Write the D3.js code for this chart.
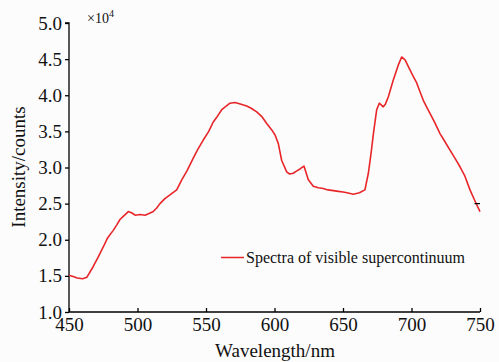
<!DOCTYPE html>
<html><head><meta charset="utf-8">
<script src="https://cdn.jsdelivr.net/npm/d3@7"></script>
<style>body{margin:0;background:#fcfcfc}svg{display:block}</style>
</head><body>
<svg id="c" width="499" height="362"></svg>
<script>
const wavelength = [450,453,456,460,463,467.7,471,475,478,482.3,485,487.2,490,493.3,496,498.2,502,505.5,508,511.5,514,516.4,520,523.7,528.6,532.3,536,540.7,544,548,552,555.3,558,561.5,564,567.5,571.2,575,579.7,583,587,591,594.3,598,600.4,602.8,605.2,608.9,611,613.7,616,618.6,621.5,624.7,628.3,632,635.6,639,642.9,646.6,650,653,657.5,662,666,668.5,670.5,672.2,674.6,676.5,679.4,681,683.1,686.7,690.4,692.8,695.3,698.9,701,703.8,706,708.6,711,713.5,717,720.8,724,728.1,732,735.4,739,742.7,746,750];
const intensity = [1.51,1.49,1.47,1.46,1.48,1.63,1.75,1.90,2.02,2.13,2.21,2.28,2.33,2.39,2.37,2.34,2.35,2.34,2.36,2.39,2.44,2.50,2.57,2.62,2.69,2.83,2.95,3.13,3.25,3.38,3.50,3.63,3.70,3.80,3.84,3.89,3.90,3.88,3.85,3.82,3.77,3.70,3.61,3.52,3.45,3.33,3.10,2.94,2.91,2.92,2.95,2.98,3.02,2.83,2.74,2.72,2.71,2.69,2.68,2.67,2.66,2.65,2.63,2.65,2.69,2.92,3.20,3.47,3.80,3.89,3.84,3.88,3.98,4.21,4.42,4.53,4.49,4.35,4.27,4.17,4.06,3.93,3.84,3.75,3.62,3.47,3.37,3.24,3.12,3.01,2.88,2.69,2.55,2.39];
const xTicks = [450,500,550,600,650,700,750];
const yTicks = [1.0,1.5,2.0,2.5,3.0,3.5,4.0,4.5,5.0];
const seriesName = "Spectra of visible supercontinuum";
const markerX = [746,750], markerY = [2.5,2.5];

const svg = d3.select("#c");
const font = "'Liberation Serif','Times New Roman',serif";
const x = d3.scaleLinear().domain([450,750]).range([69,480]);
const y = d3.scaleLinear().domain([1,5]).range([312,23]);

// y axis
const ya = svg.append("g").attr("transform","translate(69,0)")
  .call(d3.axisLeft(y).tickValues(yTicks).tickFormat(d3.format(".1f")).tickSize(4).tickPadding(3));
ya.select(".domain").attr("d","M-4,23H0V312").attr("stroke","#000").attr("stroke-width",1.3);
ya.selectAll(".tick line").attr("stroke","#000").attr("stroke-width",1.3);
ya.selectAll("text").attr("font-family",font).attr("font-size",19).attr("fill","#111");

// x axis
const xa = svg.append("g").attr("transform","translate(0,312)")
  .call(d3.axisBottom(x).tickValues(xTicks).tickFormat(d3.format("d")).tickSize(0).tickPadding(6));
xa.select(".domain").attr("d","M69,0H480").attr("stroke","#000").attr("stroke-width",1.3);
xa.selectAll(".tick line").attr("y2",-4).attr("stroke","#000").attr("stroke-width",1.3);
xa.selectAll("text").attr("font-family",font).attr("font-size",19).attr("fill","#111");

// line
const line = d3.line().x((d,i)=>x(wavelength[i])).y((d,i)=>y(intensity[i]));
svg.append("path").datum(intensity).attr("d",line).attr("fill","none")
  .attr("stroke","#e8262a").attr("stroke-width",1.6).attr("stroke-linejoin","round");

// small marker at right
svg.append("line").attr("x1",x(markerX[0])).attr("x2",x(markerX[1]))
  .attr("y1",y(markerY[0])).attr("y2",y(markerY[1])).attr("stroke","#000").attr("stroke-width",1.2);

// legend
svg.append("line").attr("x1",221).attr("x2",244).attr("y1",257.5).attr("y2",257.5)
  .attr("stroke","#e8262a").attr("stroke-width",1.5);
svg.append("text").attr("x",246).attr("y",263).attr("font-family",font).attr("font-size",16)
  .attr("fill","#111").text(seriesName);

// multiplier
const m = svg.append("text").attr("x",87).attr("y",23).attr("font-family",font).attr("font-size",14).attr("fill","#111");
m.append("tspan").text("×10");
m.append("tspan").attr("dy",-6).attr("font-size",10).text("4");

// axis titles
svg.append("text").attr("x",275).attr("y",357).attr("text-anchor","middle").attr("font-family",font)
  .attr("font-size",19).attr("fill","#111").text("Wavelength/nm");
svg.append("text").attr("transform","translate(25,167) rotate(-90)").attr("text-anchor","middle")
  .attr("font-family",font).attr("font-size",19).attr("fill","#111").text("Intensity/counts");
</script>
</body></html>
